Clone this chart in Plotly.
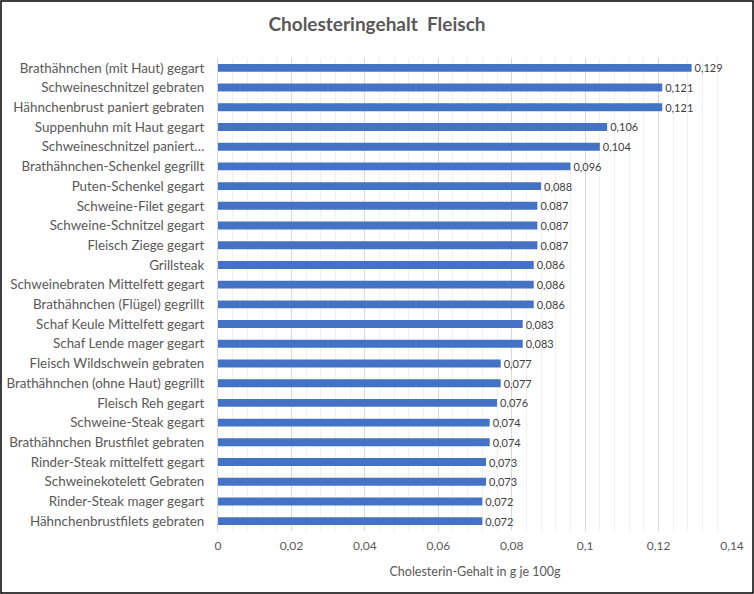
import plotly.graph_objects as go

categories = [
    "Brathähnchen (mit Haut) gegart",
    "Schweineschnitzel gebraten",
    "Hähnchenbrust paniert gebraten",
    "Suppenhuhn mit Haut gegart",
    "Schweineschnitzel paniert…",
    "Brathähnchen-Schenkel gegrillt",
    "Puten-Schenkel gegart",
    "Schweine-Filet gegart",
    "Schweine-Schnitzel gegart",
    "Fleisch Ziege gegart",
    "Grillsteak",
    "Schweinebraten Mittelfett gegart",
    "Brathähnchen (Flügel) gegrillt",
    "Schaf Keule Mittelfett gegart",
    "Schaf Lende mager gegart",
    "Fleisch Wildschwein gebraten",
    "Brathähnchen (ohne Haut) gegrillt",
    "Fleisch Reh gegart",
    "Schweine-Steak gegart",
    "Brathähnchen Brustfilet gebraten",
    "Rinder-Steak mittelfett gegart",
    "Schweinekotelett Gebraten",
    "Rinder-Steak mager gegart",
    "Hähnchenbrustfilets gebraten",
]
values = [0.129, 0.121, 0.121, 0.106, 0.104, 0.096, 0.088, 0.087, 0.087, 0.087,
          0.086, 0.086, 0.086, 0.083, 0.083, 0.077, 0.077, 0.076, 0.074, 0.074,
          0.073, 0.073, 0.072, 0.072]
x_ticks = [0, 0.02, 0.04, 0.06, 0.08, 0.1, 0.12, 0.14]

W, H = 754, 594
L, R, T, B = 218, 22, 58, 63
FONT = "Lato"

fig = go.Figure(go.Bar(
    y=categories, x=values, orientation="h",
    marker=dict(color="#4472C4", line=dict(width=0)),
    text=[f"{v:.3f}".replace(".", ",") for v in values],
    textposition="outside",
    constraintext="none",
    textfont=dict(family=FONT, size=11, color="#404040"),
    cliponaxis=False,
))

pw = W - L - R
ph = H - T - B
fig.add_shape(type="rect", xref="paper", yref="paper",
              x0=(-L + 1) / pw, x1=(pw + R - 1) / pw,
              y0=(-B + 1) / ph, y1=(ph + T - 1) / ph,
              line=dict(color="black", width=1.5), layer="above")

fig.update_layout(
    width=W, height=H,
    margin=dict(l=L, r=R, t=T, b=B, autoexpand=False),
    paper_bgcolor="white", plot_bgcolor="white",
    separators=",.",
    bargap=0.6,
    showlegend=False,
    font=dict(family=FONT, size=12, color="#595959"),
    title=dict(text="<b>Cholesteringehalt  Fleisch</b>", x=0.5, xanchor="center",
               y=1 - 24 / H, yanchor="middle",
               font=dict(family=FONT, size=19, color="#595959")),
    xaxis=dict(range=[0, 0.14], tickvals=x_ticks, showgrid=True, automargin=False,
               gridcolor="#d9d9d9", gridwidth=1, zeroline=False,
               minor=dict(dtick=0.004, showgrid=True, gridcolor="#f0f0f0", gridwidth=1),
               tickfont=dict(family=FONT, size=12, color="#595959"),
               ticks="", ticklabelstandoff=6,
               title=dict(text="Cholesterin-Gehalt in g je 100g", standoff=15,
                          font=dict(family=FONT, size=12.5, color="#595959"))),
    yaxis=dict(autorange="reversed", showline=True, linecolor="#d9d9d9", linewidth=1,
               showgrid=False, ticks="", ticklabelstandoff=10, automargin=False,
               tickfont=dict(family=FONT, size=13.4, color="#595959")),
)

fig.write_html("out.html", config={"displayModeBar": False},
               post_script="document.body.style.margin='0';")
